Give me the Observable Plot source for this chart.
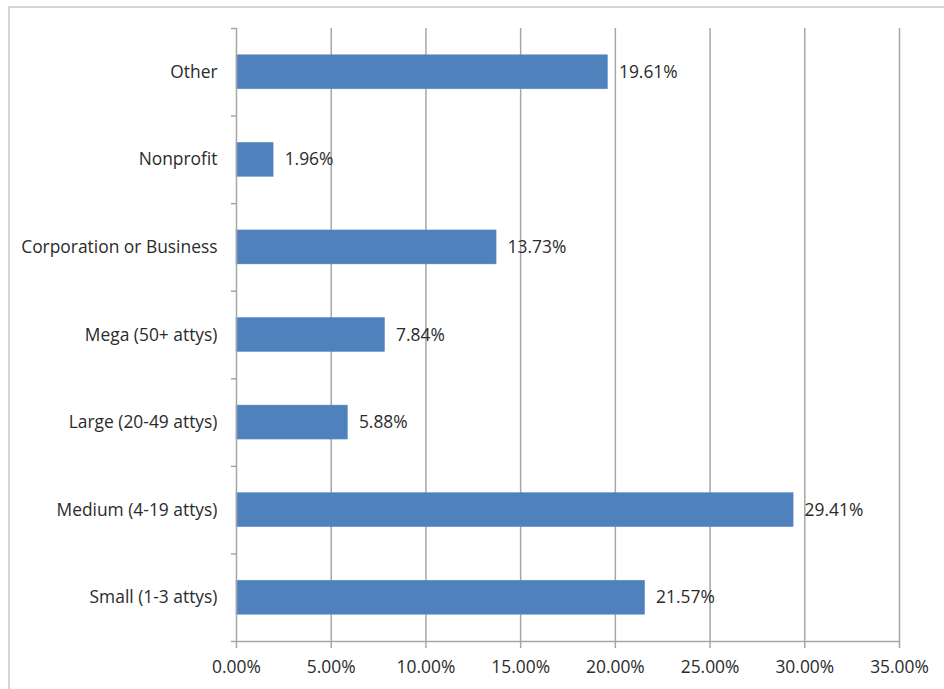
<!DOCTYPE html>
<html>
<head>
<meta charset="utf-8">
<script src="https://cdn.jsdelivr.net/npm/d3@7"></script>
<script src="https://cdn.jsdelivr.net/npm/@observablehq/plot@0.6"></script>
<style>
  html, body { margin: 0; padding: 0; background: #fff; overflow: hidden; }
  #wrap { position: relative; width: 944px; height: 689px; }
  #frame { position: absolute; left: 8px; top: 6px; width: 960px; height: 700px;
           border-left: 2px solid #d4d4d4; border-top: 2px solid #d4d4d4; box-sizing: border-box; }
  #chart { position: absolute; left: 0; top: 0; }
</style>
</head>
<body>
<div id="wrap"><div id="frame"></div><div id="chart"></div></div>
<script>
const categories = ["Other", "Nonprofit", "Corporation or Business", "Mega (50+ attys)", "Large (20-49 attys)", "Medium (4-19 attys)", "Small (1-3 attys)"];
const values = [0.1961, 0.0196, 0.1373, 0.0784, 0.0588, 0.2941, 0.2157];
const xTicks = [0, 0.05, 0.10, 0.15, 0.20, 0.25, 0.30, 0.35];

const data = categories.map((c, i) => ({cat: c, i, v: values[i]}));
const half = 0.194;
const boundaries = d3.range(categories.length + 1).map(k => k - 0.5);
const pct = d3.format(".2%");
const grid = "#a6a6a6";
const textColor = "#2b2b2b";
const fs = 17.4;

const chart = Plot.plot({
  width: 944,
  height: 689,
  marginLeft: 236,
  marginRight: 45,
  marginTop: 28,
  marginBottom: 48,
  style: {fontFamily: "'Open Sans', sans-serif", fontSize: fs + "px", color: textColor, background: "transparent"},
  x: {domain: [0, 0.35], axis: null},
  y: {domain: [-0.5, categories.length - 0.5], reverse: true, axis: null},
  marks: [
    Plot.ruleX(xTicks.slice(1), {y1: -0.5, y2: categories.length - 0.5, stroke: grid, strokeWidth: 1.5}),
    Plot.rectX(data, {x1: 0, x2: "v", y1: d => d.i - half, y2: d => d.i + half, fill: "#4f81bd", stroke: "#5b8cc6", strokeWidth: 0.5}),
    Plot.text(data, {x: "v", y: "i", text: d => pct(d.v), textAnchor: "start", dx: 11, fill: textColor, fontSize: fs}),
    Plot.ruleY([categories.length - 0.5], {x1: 0, x2: 0.35, stroke: grid, strokeWidth: 1.5}),
    Plot.ruleX([0], {y1: -0.5, y2: categories.length - 0.5, stroke: grid, strokeWidth: 1.5}),
    Plot.axisX({ticks: xTicks, tickFormat: pct, tickSize: 7, tickPadding: 12, stroke: grid, strokeWidth: 1.5, fill: textColor, fontSize: fs, anchor: "bottom", label: null}),
    Plot.axisY({ticks: boundaries, tickFormat: () => "", tickSize: 5, stroke: grid, strokeWidth: 1.5, anchor: "left", label: null}),
    Plot.axisY({ticks: d3.range(categories.length), tickFormat: i => categories[i], tickSize: 0, tickPadding: 19, fill: textColor, fontSize: fs, anchor: "left", label: null})
  ]
});
document.getElementById("chart").appendChild(chart);
</script>
</body>
</html>
